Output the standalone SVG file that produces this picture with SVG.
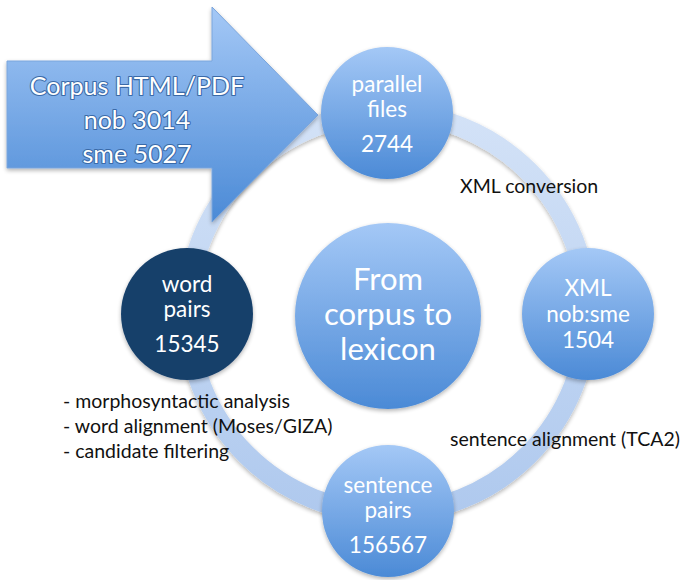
<svg xmlns="http://www.w3.org/2000/svg" width="684" height="580" viewBox="0 0 684 580">
<style>
.lbl{font-family:Lato,"Open Sans",sans-serif;font-size:19.5px;fill:#111}
.ct{font-family:Lato,"Open Sans",sans-serif;font-size:22.5px;fill:#fff;text-anchor:middle}
.big{font-family:Lato,"Open Sans",sans-serif;font-size:31px;fill:#fff;text-anchor:middle}
.at{font-family:Lato,"Open Sans",sans-serif;font-size:25px;fill:#fff;text-anchor:middle;stroke:#3a6aa8;stroke-width:2.2px;paint-order:stroke;stroke-linejoin:round}
</style>
<defs>
<linearGradient id="blue" x1="0" y1="0" x2="0" y2="1">
<stop offset="0" stop-color="#a4c8f6"/>
<stop offset="1" stop-color="#4b8ad6"/>
</linearGradient>
<linearGradient id="ring" x1="0" y1="0" x2="0" y2="1">
<stop offset="0" stop-color="#d3e2f7"/>
<stop offset="1" stop-color="#afc9ee"/>
</linearGradient>
<filter id="sh" x="-20%" y="-20%" width="140%" height="140%">
<feGaussianBlur in="SourceAlpha" stdDeviation="2"/>
<feOffset dy="2"/>
<feComponentTransfer><feFuncA type="linear" slope="0.3"/></feComponentTransfer>
<feMerge><feMergeNode/><feMergeNode in="SourceGraphic"/></feMerge>
</filter>
</defs>
<rect width="684" height="580" fill="#fff"/>
<g id="connectors">
<circle cx="387.5" cy="313" r="200" fill="none" stroke="url(#ring)" stroke-width="20" filter="url(#sh)"/>
</g>
<g id="arrow">
<polygon points="7,61 212,61 212,7 318,115 212,222 212,168 7,168" fill="url(#blue)" stroke="#7aa5dc" stroke-width="1" filter="url(#sh)"/>
<text class="at" x="137" y="95">Corpus HTML/PDF</text>
<text class="at" x="137" y="129">nob 3014</text>
<text class="at" x="137" y="163">sme 5027</text>
</g>
<g id="parallel-files">
<circle cx="387" cy="113" r="66" fill="url(#blue)" filter="url(#sh)"/>
<text class="ct" x="387" y="92">parallel</text>
<text class="ct" x="387" y="117">files</text>
<text class="ct" x="387" y="152">2744</text>
</g>
<g id="xml">
<circle cx="588" cy="314" r="66" fill="url(#blue)" filter="url(#sh)"/>
<text class="ct" x="588" y="296">XML</text>
<text class="ct" x="588" y="322">nob:sme</text>
<text class="ct" x="588" y="348">1504</text>
</g>
<g id="sentence-pairs">
<circle cx="388" cy="511" r="66" fill="url(#blue)" filter="url(#sh)"/>
<text class="ct" x="388" y="493">sentence</text>
<text class="ct" x="388" y="518">pairs</text>
<text class="ct" x="388" y="553">156567</text>
</g>
<g id="word-pairs">
<circle cx="187" cy="314" r="66" fill="#17406b" filter="url(#sh)"/>
<text class="ct" x="187" y="292">word</text>
<text class="ct" x="187" y="317">pairs</text>
<text class="ct" x="187" y="352">15345</text>
</g>
<g id="center">
<circle cx="388" cy="316" r="93" fill="url(#blue)" filter="url(#sh)"/>
<text class="big" x="388" y="290">From</text>
<text class="big" x="388" y="325">corpus to</text>
<text class="big" x="388" y="360">lexicon</text>
</g>
<g id="labels">
<text class="lbl" x="460" y="193">XML conversion</text>
<text class="lbl" x="450" y="446">sentence alignment (TCA2)</text>
<text class="lbl" x="63" y="408">- morphosyntactic analysis</text>
<text class="lbl" x="63" y="433">- word alignment (Moses/GIZA)</text>
<text class="lbl" x="63" y="458">- candidate filtering</text>
</g>
</svg>
